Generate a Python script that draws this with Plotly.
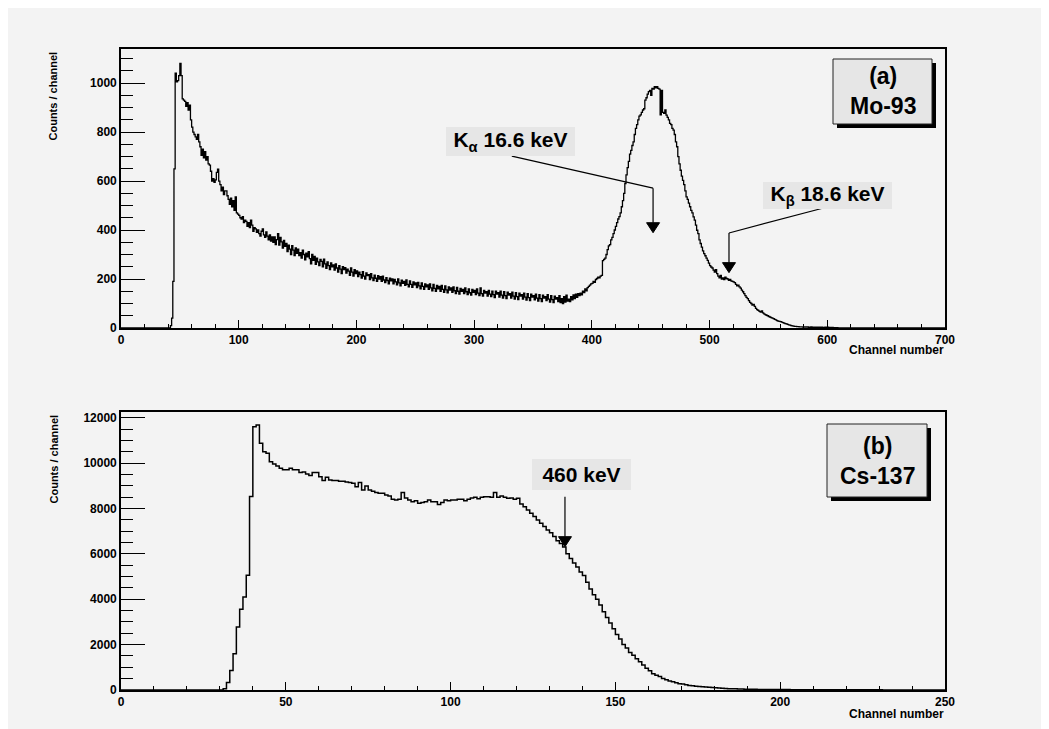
import plotly.graph_objects as go

W, H = 1049, 729
OFF = 8            # page body margin in the browser
FW, FH = W, H      # figure fills (and slightly overflows) the window
FONT = "Liberation Sans"

# ---------------- data ----------------
# (a) Mo-93 spectrum: counts per channel, starting at channel 42
mo93_first_channel = 42
mo93_counts = [
    10, 40, 190, 650, 1040, 1005, 1010, 1030,
    1080, 1030, 935, 930, 925, 905, 920, 890, 910, 850,
    820, 800, 790, 780, 770, 790, 760, 740, 705, 730,
    695, 720, 685, 700, 670, 665, 640, 600, 610, 595,
    605, 635, 648, 600, 585, 560, 575, 545, 560, 560,
    540, 525, 505, 530, 495, 520, 480, 535, 470, 465,
    460, 450, 445, 455, 430, 440, 435, 415, 430, 410,
    440, 420, 395, 410, 405, 390, 400, 385, 375, 395,
    405, 380, 370, 392, 375, 360, 380, 355, 372, 350,
    372, 340, 361, 385, 338, 370, 352, 326, 358, 333,
    345, 312, 338, 322, 300, 336, 318, 296, 327, 305,
    322, 296, 308, 285, 318, 300, 278, 306, 290, 312,
    283, 262, 300, 276, 292, 260, 285, 270, 255, 280,
    272, 250, 281, 262, 244, 270, 255, 238, 266, 250,
    258, 236, 262, 245, 228, 255, 240, 222, 250, 238,
    246, 224, 240, 232, 215, 245, 228, 212, 238, 222,
    233, 210, 228, 218, 204, 230, 212, 200, 225, 214,
    218, 198, 222, 205, 194, 216, 203, 190, 214, 200,
    210, 190, 212, 196, 185, 206, 194, 180, 204, 192,
    200, 180, 198, 188, 176, 200, 184, 172, 195, 182,
    190, 174, 196, 178, 168, 192, 178, 166, 188, 176,
    184, 165, 186, 172, 160, 184, 170, 158, 180, 168,
    176, 158, 180, 164, 152, 178, 162, 150, 174, 160,
    170, 150, 174, 158, 146, 172, 156, 144, 168, 155,
    164, 146, 168, 152, 140, 166, 150, 138, 162, 150,
    158, 140, 164, 148, 136, 160, 144, 134, 158, 146,
    154, 136, 160, 142, 132, 164, 140, 130, 154, 142,
    148, 130, 154, 138, 128, 150, 136, 124, 150, 138,
    144, 126, 150, 134, 122, 148, 132, 120, 146, 134,
    140, 122, 146, 130, 118, 144, 128, 116, 142, 130,
    136, 118, 142, 126, 114, 140, 124, 112, 138, 126,
    132, 115, 138, 122, 110, 136, 120, 108, 134, 122,
    128, 112, 136, 118, 106, 132, 116, 104, 130, 118,
    124, 108, 132, 104, 120, 100, 128, 106, 134, 110,
    118, 108, 128, 115, 135, 120, 138, 125, 140, 132,
    142, 135, 150, 145, 160, 152, 165, 170, 175, 180,
    182, 190, 186, 198, 202, 208, 205, 212, 215, 275,
    280, 285, 300, 320, 335, 340, 360, 370, 385, 400,
    415, 430, 445, 455, 470, 495, 520, 550, 590, 625,
    655, 680, 710, 725, 745, 760, 790, 815, 830, 850,
    865, 870, 880, 890, 895, 930, 940, 955, 965, 970,
    950, 978, 975, 985, 980, 985, 978, 975, 870, 970,
    880, 876, 890, 869, 860, 850, 835, 830, 815, 808,
    790, 760, 740, 700, 670, 644, 620, 603, 585, 560,
    535, 525, 510, 495, 480, 470, 454, 440, 420, 399,
    385, 360, 345, 330, 315, 304, 295, 285, 276, 265,
    255, 249, 245, 236, 228, 238, 222, 212, 205, 215,
    200, 205, 198, 208, 202, 200, 195, 198, 192, 190,
    188, 185, 178, 172, 175, 168, 163, 155, 148, 140,
    132, 125, 120, 112, 105, 100, 93, 96, 88, 80,
    75, 72, 68, 65, 70, 62, 58, 55, 52, 50,
    47, 45, 42, 40, 38, 35, 33, 30, 28, 27,
    26, 24, 22, 20, 18, 17, 15, 13, 12, 10,
    9, 8, 7, 7, 6, 6, 5, 5, 5, 4,
    4, 4, 4, 4, 3, 3, 4, 3, 3, 3,
    3, 3, 2, 3, 2, 3, 2, 2, 3, 2,
    3, 2, 2, 1, 2, 1, 1, 1, 1, 0,
]

# (b) Cs-137 spectrum: counts per channel, starting at channel 31
cs137_first_channel = 31
cs137_counts = [
    60, 330, 860, 1600, 2780, 3560, 4100, 5060, 8530, 11600, 11680,
    10870, 10500, 10430, 10060, 9960, 9870, 9770, 9700, 9700, 9770,
    9700, 9700, 9580, 9610, 9520, 9450, 9580, 9580, 9400, 9230,
    9370, 9250, 9230, 9230, 9200, 9200, 9170, 9140, 9110, 8960,
    9140, 8810, 8990, 8810, 8760, 8700, 8670, 8670, 8590, 8550,
    8400, 8370, 8400, 8700, 8460, 8370, 8290, 8340, 8230, 8260,
    8290, 8370, 8290, 8290, 8170, 8260, 8370, 8340, 8370, 8370,
    8400, 8400, 8340, 8400, 8460, 8490, 8430, 8490, 8520, 8520,
    8490, 8700, 8490, 8550, 8490, 8450, 8460, 8400, 8450, 8200,
    8080, 7930, 7790, 7640, 7490, 7350, 7200, 7050, 6930, 6760,
    6580,
    6450, 6300, 6000, 5800, 5600, 5420, 5200, 5050, 4750, 4450,
    4200, 4000, 3750, 3450, 3200, 2950, 2700, 2450, 2250, 2000,
    1850, 1650, 1530, 1380, 1250, 1100, 960, 850, 720, 650,
    590, 510, 450, 400, 360, 320, 280, 260, 230, 200,
    185, 170, 155, 140, 130, 120, 105, 95, 85, 80,
    70, 60, 55, 50, 45, 40, 35, 32, 30, 28,
    27, 25, 24, 22, 21, 20, 19, 18,
    17, 17, 16, 16, 15, 15, 14, 14, 13, 13,
    12, 12, 11, 11, 10, 10, 10, 9, 9, 9,
    8, 8, 8, 7, 7, 7, 6, 6, 6, 6,
    5, 5, 5, 5, 5, 4, 4, 4, 4, 4,
    4, 3, 3, 3, 3, 3, 3, 3, 3,
]

top_x_range = [0, 700]
top_y_range = [0, 1139]
bot_x_range = [0, 250]
bot_y_range = [0, 12250]

# annotation anchor points (data coordinates)
ka_label = "K<sub>α</sub> 16.6 keV"
ka_tip = (452, 389)
ka_corner_y = 571
ka_start = (332, 702)
ka_label_pos = (331, 761)

kb_label = "K<sub>β</sub> 18.6 keV"
kb_tip = (516.5, 226)
kb_corner_y = 388
kb_start = (600, 494)
kb_label_pos = (600.2, 541)

cs_label = "460 keV"
cs_tip = (134.7, 6316)
cs_start_y = 8519
cs_label_pos = (139.8, 9497)

# ---------------- layout geometry (screen pixels) ----------------
X0, X1 = 121, 945
TOP_Y0, TOP_Y1 = 49, 328
BOT_Y0, BOT_Y1 = 412, 690

BG = "#f3f3f3"
BOXFILL = "#e6e6e6"


def px(x):
    return (x - OFF) / FW


def py(y):
    return 1 - (y - OFF) / FH


def hist_xy(first, counts, xmax):
    xs = [0, first] + [first + i + 1 for i in range(len(counts) - 1)] + [first + len(counts), xmax]
    ys = [0] + list(counts) + [0, 0]
    return xs, ys


fig = go.Figure()
hx, hy = hist_xy(mo93_first_channel, mo93_counts, top_x_range[1])
fig.add_trace(go.Scatter(x=hx, y=hy, mode="lines", line=dict(color="black", width=1.3, shape="hv"),
                         xaxis="x", yaxis="y", showlegend=False, hoverinfo="skip"))
hx2, hy2 = hist_xy(cs137_first_channel, cs137_counts, bot_x_range[1])
fig.add_trace(go.Scatter(x=hx2, y=hy2, mode="lines", line=dict(color="black", width=1.5, shape="hv"),
                         xaxis="x2", yaxis="y2", showlegend=False, hoverinfo="skip"))

tickfont = dict(family=FONT, size=12, color="black", weight="bold")


def xaxis_cfg(rng, dtick, mdtick, anchor):
    return dict(range=rng, domain=[px(X0), px(X1)], anchor=anchor, showline=True, linecolor="black",
                linewidth=1.6, mirror=True, ticks="inside", ticklen=8, tickwidth=1.2, tickcolor="black",
                dtick=dtick, tick0=0, tickformat="d", showgrid=False, zeroline=False, tickfont=tickfont,
                automargin=False,
                minor=dict(ticks="inside", ticklen=4, dtick=mdtick, tickcolor="black", tickwidth=1.2,
                           showgrid=False),
                fixedrange=True)


def yaxis_cfg(rng, dom, dtick, mdtick, anchor):
    return dict(range=rng, domain=dom, anchor=anchor, showline=True, linecolor="black",
                linewidth=1.6, mirror=True, ticks="inside", ticklen=24, tickwidth=1.2, tickcolor="black",
                dtick=dtick, tick0=0, tickformat="d", showgrid=False, zeroline=False, tickfont=tickfont,
                automargin=False,
                minor=dict(ticks="inside", ticklen=12, dtick=mdtick, tickcolor="black", tickwidth=1.2,
                           showgrid=False),
                fixedrange=True)


shapes = []
annotations = []


def dx(pix, rng):
    return pix * (rng[1] - rng[0]) / (X1 - X0)


def dy(pix, rng, h):
    return pix * (rng[1] - rng[0]) / h


def add_arrow(xr, yr, xrng, yrng, h, pts, tip):
    head_h, head_w = 10, 13
    base_y = tip[1] + dy(head_h, yrng, h)
    pts = pts + [(tip[0], base_y)]
    for (a, b), (c, d) in zip(pts[:-1], pts[1:]):
        shapes.append(dict(type="line", xref=xr, yref=yr, x0=a, y0=b, x1=c, y1=d,
                           line=dict(color="black", width=1.2)))
    hw = dx(head_w / 2, xrng)
    path = f"M{tip[0]-hw},{base_y} L{tip[0]+hw},{base_y} L{tip[0]},{tip[1]} Z"
    shapes.append(dict(type="path", xref=xr, yref=yr, path=path, fillcolor="black",
                       line=dict(color="black", width=1)))


def add_label(xr, yr, pos, text, w, h):
    annotations.append(dict(xref=xr, yref=yr, x=pos[0], y=pos[1], text=text, showarrow=False,
                            width=w, height=h, bgcolor=BOXFILL, borderpad=0, borderwidth=0,
                            xanchor="center", yanchor="middle", align="center", valign="middle",
                            font=dict(family=FONT, size=21, color="black", weight="bold")))


def add_pave(x0, y0, x1, y1, text):
    off = 4
    shapes.append(dict(type="rect", xref="paper", yref="paper", x0=px(x0 + off), y0=py(y1 + off),
                       x1=px(x1 + off), y1=py(y0 + off), fillcolor="black", line=dict(width=0)))
    shapes.append(dict(type="rect", xref="paper", yref="paper", x0=px(x0), y0=py(y1),
                       x1=px(x1), y1=py(y0), fillcolor=BOXFILL, line=dict(color="#222222", width=1)))
    annotations.append(dict(xref="paper", yref="paper", x=px((x0 + x1) / 2), y=py((y0 + y1) / 2),
                            text=text, showarrow=False, xanchor="center", yanchor="middle",
                            align="center",
                            font=dict(family=FONT, size=23, color="black", weight="bold")))


# top panel annotations
add_arrow("x", "y", top_x_range, top_y_range, TOP_Y1 - TOP_Y0,
          [ka_start, (ka_tip[0], ka_corner_y)], ka_tip)
add_arrow("x", "y", top_x_range, top_y_range, TOP_Y1 - TOP_Y0,
          [kb_start, (kb_tip[0], kb_corner_y)], kb_tip)
add_label("x", "y", ka_label_pos, ka_label, 129, 29)
add_label("x", "y", kb_label_pos, kb_label, 129, 27)
add_pave(833, 59, 932, 124, "(a)<br>Mo-93")

# bottom panel annotations
add_arrow("x2", "y2", bot_x_range, bot_y_range, BOT_Y1 - BOT_Y0,
          [(cs_tip[0], cs_start_y)], cs_tip)
add_label("x2", "y2", cs_label_pos, cs_label, 99, 31)
add_pave(827, 424, 927, 497, "(b)<br>Cs-137")

# axis titles
title_font = dict(family=FONT, size=11, color="black", weight="bold")
for ytop in (TOP_Y0 + 1, BOT_Y0 + 1):
    annotations.append(dict(xref="paper", yref="paper", x=px(53), y=py(ytop), text="Counts / channel",
                            textangle=-90, showarrow=False, xanchor="center", yanchor="top",
                            font=title_font))
for yc in (350, 714):
    annotations.append(dict(xref="paper", yref="paper", x=px(X1 + 1), y=py(yc), text="Channel number",
                            showarrow=False, xanchor="right", yanchor="middle",
                            font=dict(family=FONT, size=12, color="black", weight="bold")))

fig.update_layout(
    width=FW, height=FH, margin=dict(l=0, r=0, t=0, b=0, autoexpand=False),
    paper_bgcolor=BG, plot_bgcolor=BG, showlegend=False,
    xaxis=xaxis_cfg(top_x_range, 100, 20, "y"),
    yaxis=yaxis_cfg(top_y_range, [py(TOP_Y1), py(TOP_Y0)], 200, 50, "x"),
    xaxis2=xaxis_cfg(bot_x_range, 50, 10, "y2"),
    yaxis2=yaxis_cfg(bot_y_range, [py(BOT_Y1), py(BOT_Y0)], 2000, 500, "x2"),
    shapes=shapes, annotations=annotations,
)

fig.write_html("out.html")
